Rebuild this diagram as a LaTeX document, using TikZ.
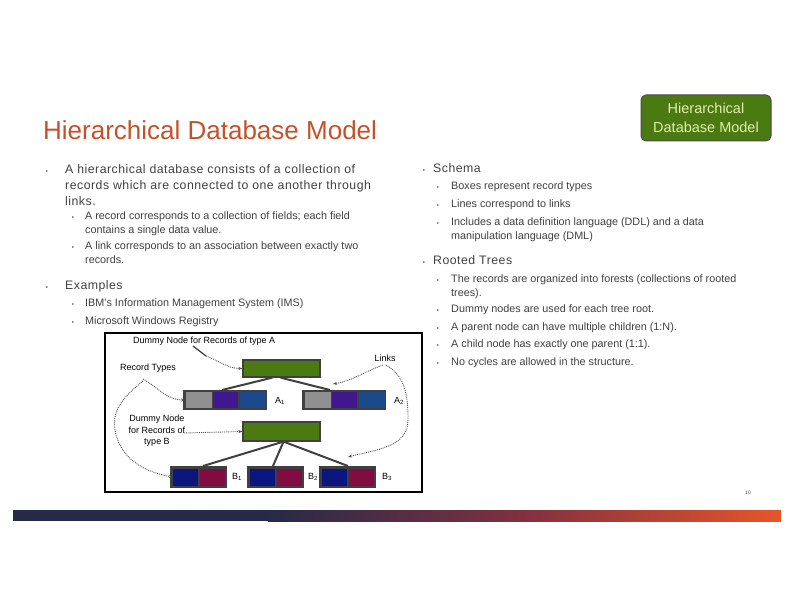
\documentclass[tikz,border=0pt]{standalone}
\usepackage{fontspec}
\setmainfont{Liberation Sans}
\usetikzlibrary{arrows.meta}
\definecolor{titlec}{HTML}{C4512B}
\definecolor{txt}{HTML}{404040}
\definecolor{grn}{HTML}{4B7A12}
\definecolor{recgray}{HTML}{909090}
\definecolor{recpur}{HTML}{3F1890}
\definecolor{recblu}{HTML}{1A4A8C}
\definecolor{recnavy}{HTML}{0C1680}
\definecolor{recmar}{HTML}{820C42}
\definecolor{bardark}{HTML}{262A48}
\definecolor{barred}{HTML}{E5562A}
\begin{document}
\begin{tikzpicture}[x=1pt,y=-1pt,
  bt/.style={anchor=base west,text=txt,inner sep=0pt,font=\fontsize{12.3}{14}\selectfont\addfontfeature{LetterSpace=4}},
  st/.style={anchor=base west,text=txt,inner sep=0pt,font=\fontsize{10.8}{12}\selectfont},
  bul/.style={anchor=base,text=txt,inner sep=0pt,font=\fontsize{6}{7}\selectfont},
  lab/.style={text=black,inner sep=0pt,font=\fontsize{9}{11.5}\selectfont},
  link/.style={draw=black!75,line width=2pt},
  ann/.style={densely dotted,line width=0.9pt,black!70,-{Stealth[length=4pt]}}]
\useasboundingbox (0,0) rectangle (792,612);
% title
\node[anchor=base west,inner sep=0pt,text=titlec,font=\fontsize{26}{30}\selectfont] (title) at (43,140) {Hierarchical Database Model};
% button
\node[draw=black!70,line width=1pt,fill=grn,rounded corners=5pt,minimum width=130pt,minimum height=46pt,align=center,text={rgb,255:red,225;green,240;blue,170},font=\fontsize{14.5}{19}\selectfont] (btn) at (706,118) {Hierarchical\\Database Model};
% left bullets
\node[bul] (b1) at (47,174) {\textbullet};
\node[bt] (t1a) at (65,174) {A hierarchical database consists of a collection of};
\node[bt] (t1b) at (65,190) {records which are connected to one another through};
\node[bt] (t1c) at (65,206) {links.};
\node[bul] (b11) at (73,220) {\textbullet};
\node[st] (t11a) at (85,220) {A record corresponds to a collection of fields; each field};
\node[st] (t11b) at (85,234) {contains a single data value.};
\node[bul] (b12) at (73,250) {\textbullet};
\node[st] (t12a) at (85,250) {A link corresponds to an association between exactly two};
\node[st] (t12b) at (85,264) {records.};
\node[bul] (b2) at (47,289) {\textbullet};
\node[bt] (t2) at (65,289) {Examples};
\node[bul] (b21) at (73,306) {\textbullet};
\node[st] (t21) at (85,306) {IBM's Information Management System (IMS)};
\node[bul] (b22) at (73,324) {\textbullet};
\node[st] (t22) at (85,324) {Microsoft Windows Registry};
% right bullets
\node[bul] (r1) at (424,173) {\textbullet};
\node[bt] (rt1) at (433,173) {Schema};
\node[bul] (r11) at (438,190) {\textbullet};
\node[st] (rt11) at (451,190) {Boxes represent record types};
\node[bul] (r12) at (438,208) {\textbullet};
\node[st] (rt12) at (451,208) {Lines correspond to links};
\node[bul] (r13) at (438,226) {\textbullet};
\node[st] (rt13a) at (451,226) {Includes a data definition language (DDL) and a data};
\node[st] (rt13b) at (451,240) {manipulation language (DML)};
\node[bul] (r2) at (424,265) {\textbullet};
\node[bt] (rt2) at (433,265) {Rooted Trees};
\node[bul] (r21) at (438,283) {\textbullet};
\node[st] (rt21a) at (451,283) {The records are organized into forests (collections of rooted};
\node[st] (rt21b) at (451,296) {trees).};
\node[bul] (r22) at (438,312) {\textbullet};
\node[st] (rt22) at (451,312) {Dummy nodes are used for each tree root.};
\node[bul] (r23) at (438,330) {\textbullet};
\node[st] (rt23) at (451,330) {A parent node can have multiple children (1:N).};
\node[bul] (r24) at (438,347) {\textbullet};
\node[st] (rt24) at (451,347) {A child node has exactly one parent (1:1).};
\node[bul] (r25) at (438,365) {\textbullet};
\node[st] (rt25) at (451,365) {No cycles are allowed in the structure.};
% diagram frame
\draw[line width=1.5pt,black] (105,333) rectangle (422,492);
% green boxes
\node[draw=black!75,line width=1.2pt,fill=grn,minimum width=77pt,minimum height=17pt,inner sep=0pt] (ga) at (281.5,368.5) {};
\node[draw=black!75,line width=1.2pt,fill=grn,minimum width=77pt,minimum height=19pt,inner sep=0pt] (gb) at (281.5,431.5) {};
% A1
\fill[black!75] (183,390) rectangle (267,410);
\node[fill=recgray,minimum width=26pt,minimum height=16pt,inner sep=0pt] (a1f1) at (198.5,400) {};
\node[fill=recpur,minimum width=25pt,minimum height=16pt,inner sep=0pt] (a1f2) at (225.5,400) {};
\node[fill=recblu,minimum width=26pt,minimum height=16pt,inner sep=0pt] (a1f3) at (252.5,400) {};
\coordinate (a1top) at (222,390);
% A2
\fill[black!75] (302,390) rectangle (386,410);
\node[fill=recgray,minimum width=26pt,minimum height=16pt,inner sep=0pt] (a2f1) at (317.5,400) {};
\node[fill=recpur,minimum width=25pt,minimum height=16pt,inner sep=0pt] (a2f2) at (344.5,400) {};
\node[fill=recblu,minimum width=26pt,minimum height=16pt,inner sep=0pt] (a2f3) at (371.5,400) {};
\coordinate (a2top) at (330,390);
% B records
\fill[black!75] (170,466) rectangle (227,488);
\node[fill=recnavy,minimum width=25pt,minimum height=17pt,inner sep=0pt] (b1f1) at (185.5,477) {};
\node[fill=recmar,minimum width=25pt,minimum height=17pt,inner sep=0pt] (b1f2) at (212,477) {};
\coordinate (b1top) at (203,466);
\fill[black!75] (247,466) rectangle (304,488);
\node[fill=recnavy,minimum width=25pt,minimum height=17pt,inner sep=0pt] (b2f1) at (262.5,477) {};
\node[fill=recmar,minimum width=25pt,minimum height=17pt,inner sep=0pt] (b2f2) at (289,477) {};
\coordinate (b2top) at (273,466);
\fill[black!75] (319,466) rectangle (376,488);
\node[fill=recnavy,minimum width=25pt,minimum height=17pt,inner sep=0pt] (b3f1) at (334.5,477) {};
\node[fill=recmar,minimum width=25pt,minimum height=17pt,inner sep=0pt] (b3f2) at (361,477) {};
\coordinate (b3top) at (348,466);
% links
\draw[link] ([xshift=-9pt]ga.south) -- (a1top);
\draw[link] ([xshift=-1pt]ga.south) -- (a2top);
\draw[link] ([xshift=2pt]gb.south) -- (b1top);
\draw[link] ([xshift=2pt]gb.south) -- (b2top);
\draw[link] ([xshift=2pt]gb.south) -- (b3top);
% labels
\node[lab] (la1) at (280,401) {A\textsubscript{1}};
\node[lab] (la2) at (399,401) {A\textsubscript{2}};
\node[lab] (lb1) at (237,477) {B\textsubscript{1}};
\node[lab] (lb2) at (313,477) {B\textsubscript{2}};
\node[lab] (lb3) at (387,477) {B\textsubscript{3}};
\node[lab,anchor=base west] (dA) at (133,343) {Dummy Node for Records of type A};
\node[lab] (rt) at (148,368) {Record Types};
\node[lab] (lk) at (385,358) {Links};
\node[lab,align=center] (dB) at (157,431) {Dummy Node\\for Records of\\type B};
% annotation arrows
\coordinate (dAs) at (193,346);
\coordinate (dAk) at (206,356);
\draw[line width=1.3pt,black!75] (dAs) -- (dAk);
\draw[ann] (dAk) to[out=-20,in=180] (ga.west);
\draw[ann] (143,379) to[out=-30,in=180] (a1f1.west);
\draw[ann] (143,381) to[out=220,in=100] (115,430) to[out=-80,in=170] (b1f1.west);
\draw[ann] (383,365) to[out=200,in=10] (333,384);
\draw[ann] (386,365) to[out=-30,in=90] (408,420) to[out=-90,in=15] (348,457);
\draw[ann] (184,433) -- (gb.west);
% footer
\node[inner sep=0pt,font=\fontsize{5}{6}\selectfont,text=txt] (pg) at (748,493) {10};
\shade[left color=bardark,right color=barred,middle color={rgb,255:red,130;green,48;blue,64}] (268,510) rectangle (781,521);
\fill[bardark] (13,510) rectangle (271,521);
\end{tikzpicture}
\end{document}
